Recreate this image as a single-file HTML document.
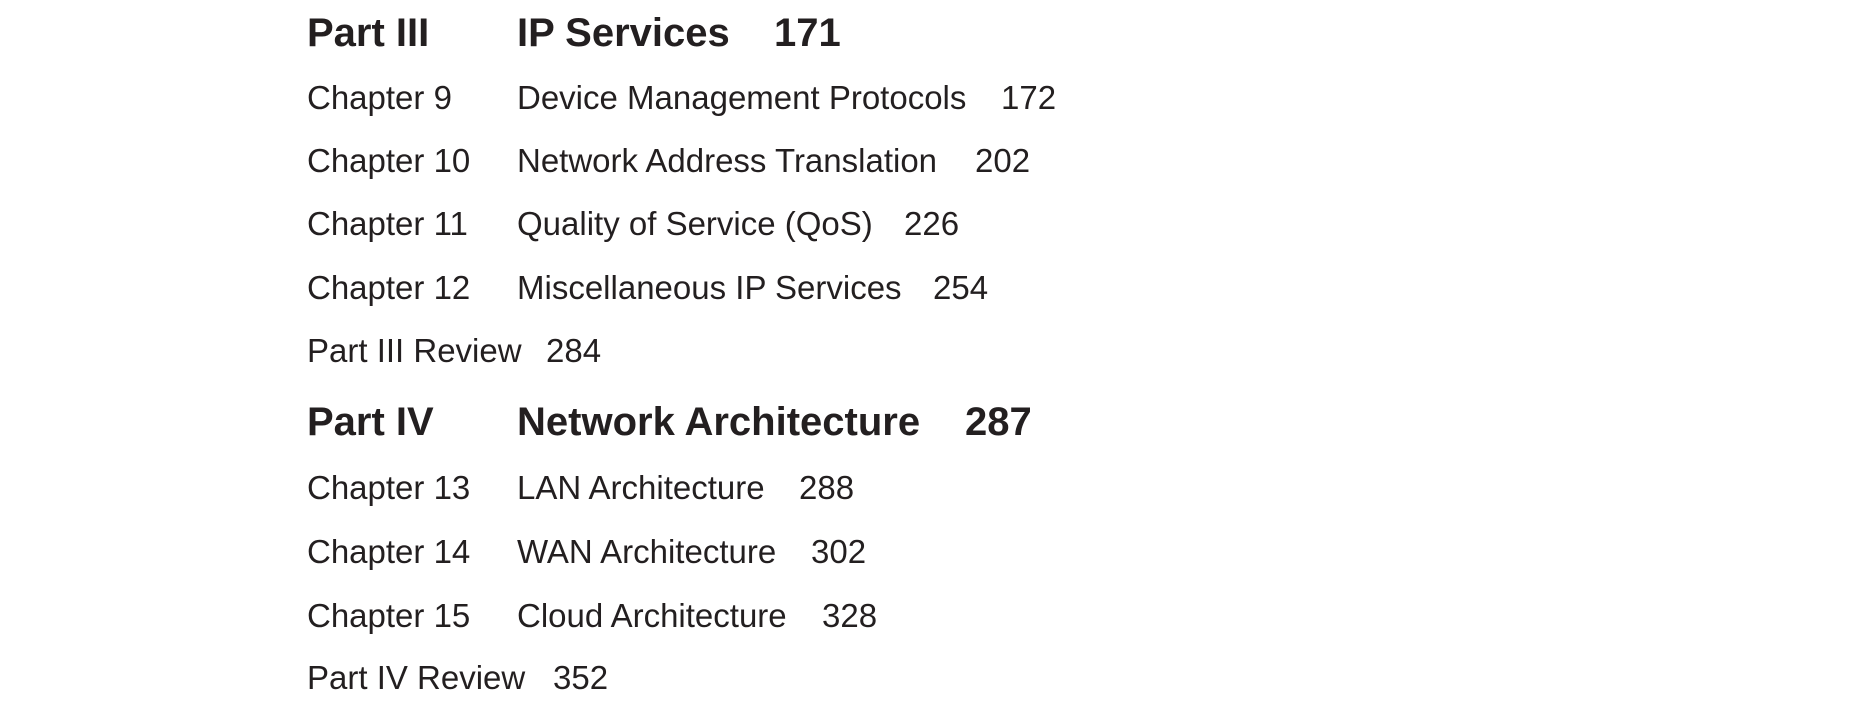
<!DOCTYPE html>
<html><head><meta charset="utf-8"><style>
html,body{margin:0;padding:0;background:#fff;width:1853px;height:712px;overflow:hidden;position:relative}
span{position:absolute;white-space:nowrap;line-height:1;font-family:"Liberation Sans",Arial,sans-serif;color:#231f20}
.b{font-weight:bold;font-size:40px}
.r{font-size:33px}
</style></head><body>
<script>
const labels=["Part III","Chapter 9","Chapter 10","Chapter 11","Chapter 12","Part III Review","Part IV","Chapter 13","Chapter 14","Chapter 15","Part IV Review"];
const titles=["IP Services","Device Management Protocols","Network Address Translation","Quality of Service (QoS)","Miscellaneous IP Services","","Network Architecture","LAN Architecture","WAN Architecture","Cloud Architecture",""];
const pages=["171","172","202","226","254","284","287","288","302","328","352"];
const bold=[1,0,0,0,0,0,1,0,0,0,0];
const baselines=[47,109,172,235,299,362,436,499,563,627,689];
const pageX=[774,1001,975,904,933,546,965,799,811,822,553];
function mk(txt,x,i,name){
  const s=document.createElement('span');
  s.className=bold[i]?'b':'r';
  const fs=bold[i]?40:33;
  s.style.left=x+'px';
  s.style.top=(baselines[i]-0.8465*fs)+'px';
  s.textContent=txt;
  
  
  document.body.appendChild(s);
}
for(let i=0;i<labels.length;i++){
  mk(labels[i],307,i,'entry-label');
  if(titles[i]) mk(titles[i],517,i,'entry-title');
  mk(pages[i],pageX[i],i,'entry-page-number');
}
</script>
</body></html>
